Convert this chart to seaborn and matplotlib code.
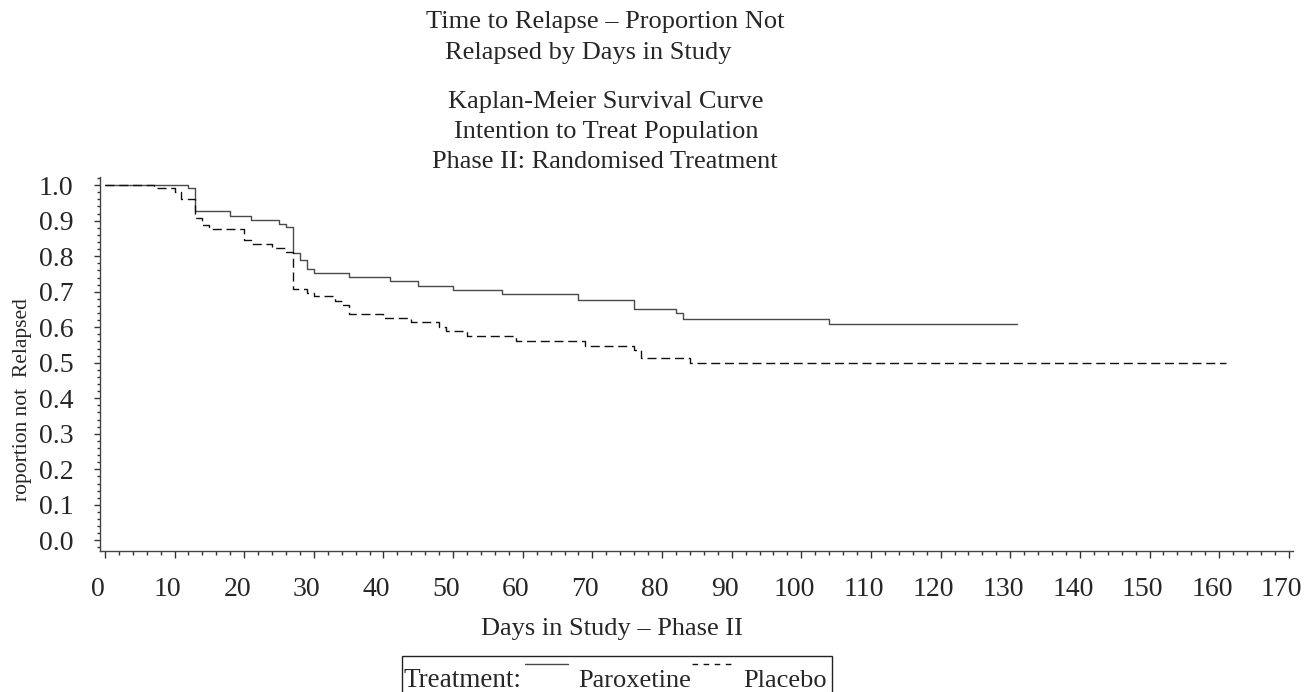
import numpy as np
import pandas as pd
import matplotlib
matplotlib.use("Agg")
import matplotlib.pyplot as plt
from matplotlib.lines import Line2D
from matplotlib.patches import Rectangle
from matplotlib.ticker import MultipleLocator, FormatStrFormatter
from matplotlib.transforms import ScaledTranslation
import seaborn as sns

sns.set_theme(style="ticks")
plt.rcParams['font.family'] = ['Liberation Serif', 'DejaVu Serif']

# Kaplan-Meier step values
parox_days = [0, 12, 13, 18, 21, 25, 26, 27, 28, 29, 30, 35, 41, 45, 50, 57, 68, 76, 82, 83, 104, 131]
parox_surv = [1.0, 0.991, 0.926, 0.914, 0.903, 0.892, 0.881, 0.810, 0.788, 0.764, 0.754, 0.741,
              0.730, 0.717, 0.706, 0.693, 0.678, 0.651, 0.639, 0.623, 0.608, 0.608]

placebo_days = [0, 7, 10, 11, 13, 14, 15, 20, 21, 24, 26, 27, 29, 30, 33, 34, 35, 40, 44, 48,
                49, 52, 59, 69, 76, 77, 84, 161]
placebo_surv = [1.0, 0.991, 0.980, 0.960, 0.908, 0.889, 0.876, 0.845, 0.834, 0.822, 0.811, 0.708,
                0.695, 0.687, 0.674, 0.662, 0.638, 0.627, 0.614, 0.601, 0.589, 0.575, 0.562, 0.546,
                0.535, 0.514, 0.498, 0.498]

treatments = ['Paroxetine', 'Placebo']

df = pd.concat([
    pd.DataFrame({'day': parox_days, 'surv': parox_surv, 'treatment': treatments[0]}),
    pd.DataFrame({'day': placebo_days, 'surv': placebo_surv, 'treatment': treatments[1]}),
], ignore_index=True)

fig = plt.figure(figsize=(13.1, 6.92), dpi=100)
ax = fig.add_axes([100 / 1310, 1 - 551 / 692, 1193 / 1310, 374 / 692])

sns.lineplot(data=df, x='day', y='surv', hue='treatment', style='treatment',
             palette={'Paroxetine': '#4a4a4a', 'Placebo': '#111111'},
             dashes={'Paroxetine': '', 'Placebo': (6.5, 3.4)},
             drawstyle='steps-post', estimator=None, linewidth=1.0,
             legend=False, ax=ax)

ax.set_xlim(-0.7, 170.6)
ax.set_ylim(-0.03, 1.023)
ax.xaxis.set_major_locator(MultipleLocator(10))
ax.xaxis.set_minor_locator(MultipleLocator(2))
ax.yaxis.set_major_locator(MultipleLocator(0.1))
ax.yaxis.set_minor_locator(MultipleLocator(0.02))
ax.yaxis.set_major_formatter(FormatStrFormatter('%.1f'))
ax.tick_params(axis='x', which='major', length=5, width=1, pad=14, labelsize=20, color='#333333')
ax.tick_params(axis='x', which='minor', length=3, width=1, color='#333333')
ax.tick_params(axis='y', which='major', length=4, width=1, pad=15, labelsize=20, color='#333333')
ax.tick_params(axis='y', which='minor', length=2, width=1, color='#333333')
sns.despine(ax=ax)
for sp in ['left', 'bottom']:
    ax.spines[sp].set_color('#444444')
    ax.spines[sp].set_linewidth(1.0)
ax.set_xlabel('')
ax.set_ylabel('')

# x tick labels sit a little left of their ticks in the original
shift = ScaledTranslation(-7 / 100, 0, fig.dpi_scale_trans)
for lab in ax.get_xticklabels():
    lab.set_transform(lab.get_transform() + shift)

# titles
fig.text(605 / 1310, 1 - 22 / 692, 'Time to Relapse \u2013 Proportion Not', ha='center', va='center', fontsize=19)
fig.text(588 / 1310, 1 - 53 / 692, 'Relapsed by Days in Study', ha='center', va='center', fontsize=19)
fig.text(606 / 1310, 1 - 102 / 692, 'Kaplan-Meier Survival Curve', ha='center', va='center', fontsize=19)
fig.text(606 / 1310, 1 - 132 / 692, 'Intention to Treat Population', ha='center', va='center', fontsize=19)
fig.text(605 / 1310, 1 - 162 / 692, 'Phase II: Randomised Treatment', ha='center', va='center', fontsize=19)

# axis labels
fig.text(612 / 1310, 1 - 629 / 692, 'Days in Study \u2013 Phase II', ha='center', va='center', fontsize=19)
fig.text(23 / 1310, 1 - 400 / 692, 'roportion not  Relapsed', ha='center', va='center',
         rotation=90, fontsize=15.5)

# legend box (cut at the bottom edge as in the original)
fig.patches.append(Rectangle((402 / 1310, -0.05), 430 / 1310, 0.05 + 36 / 692,
                             transform=fig.transFigure, fill=False, edgecolor='#222222',
                             linewidth=1.0))
base_y = 1 - 687 / 692
samp_y = 1 - 664 / 692
fig.text(404 / 1310, base_y, 'Treatment:', ha='left', va='baseline', fontsize=19.5)
fig.lines.append(Line2D([525 / 1310, 568 / 1310], [samp_y, samp_y], transform=fig.transFigure,
                        color='#4a4a4a', linewidth=1.0))
fig.text(578 / 1310, base_y, 'Paroxetine', ha='left', va='baseline', fontsize=19)
fig.lines.append(Line2D([692 / 1310, 734 / 1310], [samp_y, samp_y], transform=fig.transFigure,
                        color='#111111', linewidth=1.0, dashes=(4, 4)))
fig.text(743 / 1310, base_y, 'Placebo', ha='left', va='baseline', fontsize=19)

fig.savefig('out.png', dpi=100)
